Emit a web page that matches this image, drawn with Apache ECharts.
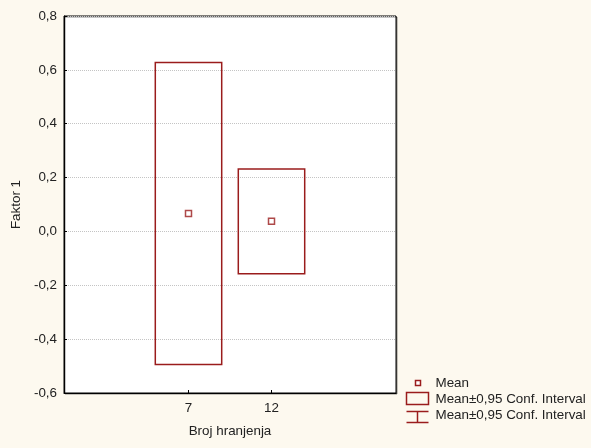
<!DOCTYPE html>
<html>
<head>
<meta charset="utf-8">
<script src="https://cdn.jsdelivr.net/npm/echarts@6/dist/echarts.min.js"></script>
<style>
  html, body { margin: 0; padding: 0; background: #fdf9ef; }
  #chart { width: 591px; height: 448px; }
</style>
</head>
<body>
<div id="chart"></div>
<script>
// Feeding frequency groups and the factor score summary per group
const categories = ['7', '12'];
const means = [0.067, 0.038];
const ciLower = [-0.494, -0.157];
const ciUpper = [0.627, 0.232];

const DARK_RED = '#9a1c1c';
const TEXT = '#222';
const FONT = 'Liberation Sans, Arial, sans-serif';
const FS = 13.4;

// Empty bands on both sides keep the groups centred in the plot
const axisCats = [''].concat(categories, ['']);

const boxData = categories.map((c, i) => [i + 1, ciLower[i], ciUpper[i]]);
const meanData = categories.map((c, i) => [i + 1, means[i]]);

const chart = echarts.init(document.getElementById('chart'), null, { renderer: 'canvas' });

const fmt = v => (Math.round(v * 10) / 10).toFixed(1).replace('.', ',').replace('-0,0', '0,0');

chart.setOption({
  backgroundColor: '#fdf9ef',
  animation: false,
  textStyle: { fontFamily: FONT },
  grid: {
    left: 64, top: 16, width: 332, height: 377,
    show: true, backgroundColor: '#ffffff',
    borderColor: '#000', borderWidth: 1,
    shadowColor: 'rgba(0,0,0,0.45)', shadowBlur: 0, shadowOffsetX: 1, shadowOffsetY: 1
  },
  xAxis: [{
    type: 'category',
    data: axisCats,
    boundaryGap: true,
    name: 'Broj hranjenja',
    nameLocation: 'middle',
    nameGap: 32,
    nameTextStyle: { fontSize: FS, color: TEXT, fontFamily: FONT },
    axisLine: { show: true, onZero: false, lineStyle: { color: '#000', width: 1 } },
    axisTick: { show: true, inside: true, length: 3, alignWithLabel: true,
      interval: (i, v) => v !== '', lineStyle: { color: '#000' } },
    axisLabel: { interval: 0, margin: 9, fontSize: FS, color: TEXT, fontFamily: FONT },
    splitLine: { show: false }
  }],
  yAxis: [{
    type: 'value',
    min: -0.6, max: 0.8, interval: 0.2,
    name: 'Faktor 1',
    nameLocation: 'middle',
    nameGap: 40,
    nameTextStyle: { fontSize: FS, color: TEXT, fontFamily: FONT },
    axisLine: { show: true, onZero: false, lineStyle: { color: '#000', width: 1 } },
    axisTick: { show: true, inside: true, length: 3, lineStyle: { color: '#000' } },
    axisLabel: { margin: 7, fontSize: FS, color: TEXT, fontFamily: FONT, formatter: fmt },
    splitLine: { show: true, lineStyle: { color: '#c4c4c4', type: 'dotted', width: 1 } }
  }],
  series: [
    {
      name: 'Mean±0,95 Conf. Interval',
      type: 'custom',
      data: boxData,
      renderItem: function (params, api) {
        const x = api.value(0);
        const lo = api.coord([x, api.value(1)]);
        const hi = api.coord([x, api.value(2)]);
        const w = api.size([1, 0])[0] * 0.8;
        return {
          type: 'rect',
          shape: { x: lo[0] - w / 2, y: hi[1], width: w, height: lo[1] - hi[1] },
          style: { fill: null, stroke: DARK_RED, lineWidth: 1.5 }
        };
      },
      z: 3
    },
    {
      name: 'Mean',
      type: 'scatter',
      data: meanData,
      symbol: 'rect',
      symbolSize: 6,
      itemStyle: { color: '#fff', borderColor: DARK_RED, borderWidth: 1.5 },
      z: 4
    }
  ],
  graphic: [
    {
      type: 'group', left: 404, top: 377,
      children: [
        { type: 'rect', shape: { x: 10, y: 3, width: 5, height: 5 },
          style: { fill: '#fff', stroke: DARK_RED, lineWidth: 1.5 } },
        { type: 'text', x: 30, y: 6, style: { text: 'Mean', fill: TEXT, font: FS + 'px ' + FONT, verticalAlign: 'middle' } },
        { type: 'rect', shape: { x: 1, y: 15, width: 22, height: 12 },
          style: { fill: null, stroke: DARK_RED, lineWidth: 1.5 } },
        { type: 'text', x: 30, y: 22, style: { text: 'Mean±0,95 Conf. Interval', fill: TEXT, font: FS + 'px ' + FONT, verticalAlign: 'middle' } },
        { type: 'polyline', shape: { points: [[1, 34], [23, 34]] }, style: { stroke: DARK_RED, lineWidth: 1.5 } },
        { type: 'polyline', shape: { points: [[12, 34], [12, 45]] }, style: { stroke: DARK_RED, lineWidth: 1.5 } },
        { type: 'polyline', shape: { points: [[1, 45], [23, 45]] }, style: { stroke: DARK_RED, lineWidth: 1.5 } },
        { type: 'text', x: 30, y: 38, style: { text: 'Mean±0,95 Conf. Interval', fill: TEXT, font: FS + 'px ' + FONT, verticalAlign: 'middle' } }
      ]
    }
  ]
});
</script>
</body>
</html>
